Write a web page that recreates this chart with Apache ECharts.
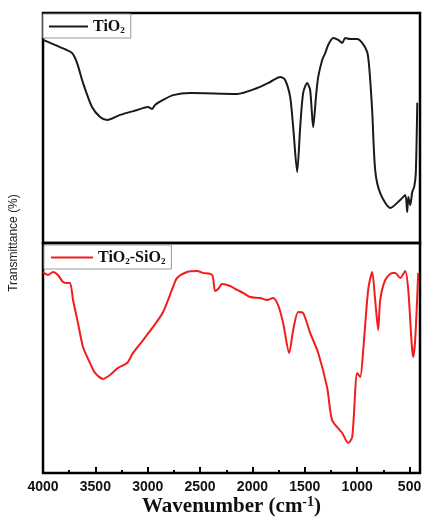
<!DOCTYPE html>
<html>
<head>
<meta charset="utf-8">
<script src="https://cdn.jsdelivr.net/npm/echarts@6/dist/echarts.min.js"></script>
<style>
  html, body { margin: 0; padding: 0; background: #fff; }
  #chart { width: 422px; height: 519px; }
</style>
</head>
<body>
<div id="chart"></div>
<script>
// FTIR spectra, values (transmittance in arbitrary units, 0-100 per panel)
const tio2Wave = [4000, 3838, 3723, 3675, 3618, 3532, 3455, 3388, 3264, 3102, 2997, 2958, 2930, 2853, 2758, 2595, 2146, 1955, 1831, 1735, 1688, 1640, 1611, 1573, 1544, 1516, 1478, 1449, 1420, 1392, 1372, 1334, 1305, 1277, 1229, 1181, 1143, 1114, 1067, 1000, 952, 904, 885, 857, 828, 780, 684, 589, 541, 522, 512, 493, 474, 455, 440, 426]
const tio2Trans = [88.3, 85.2, 82.6, 78.3, 69.6, 59.1, 54.8, 53.5, 55.7, 57.8, 59.1, 58.3, 60.0, 62.2, 64.3, 65.2, 64.8, 67.4, 70.0, 72.2, 70.9, 63.5, 50.4, 30.9, 50.4, 65.2, 69.6, 66.5, 50.4, 64.3, 72.2, 79.6, 82.6, 86.1, 89.1, 88.3, 87.0, 89.1, 88.7, 88.7, 87.0, 83.0, 76.5, 57.8, 31.7, 21.7, 15.2, 18.7, 20.9, 13.5, 20.0, 16.5, 22.2, 24.5, 30.4, 61]

const tisiWave = [4000, 3952, 3904, 3857, 3809, 3771, 3742, 3713, 3666, 3618, 3551, 3503, 3427, 3360, 3283, 3197, 3140, 3044, 2949, 2853, 2758, 2720, 2624, 2529, 2471, 2385, 2357, 2328, 2290, 2213, 2146, 2089, 2022, 1927, 1860, 1802, 1755, 1707, 1649, 1611, 1563, 1516, 1449, 1372, 1286, 1239, 1143, 1086, 1047, 1000, 971, 942, 895, 857, 828, 799, 780, 732, 665, 637, 589, 541, 512, 465, 446, 417]
const tisiTrans = [87.4, 86.1, 87.4, 86.1, 83.0, 82.6, 82.6, 75.2, 65.2, 54.8, 47.8, 43.5, 40.9, 42.6, 45.7, 47.8, 52.2, 57.8, 63.5, 70.0, 80.9, 84.8, 87.4, 87.8, 87.0, 86.1, 79.1, 80.0, 82.2, 81.3, 79.6, 78.3, 76.5, 76.1, 75.2, 76.1, 73.0, 65.2, 52.2, 62.2, 70.0, 69.6, 60.9, 52.2, 37.0, 23.0, 17.4, 13.0, 15.7, 43.5, 41.7, 53.5, 79.6, 87.4, 75.2, 62.2, 75.2, 83.9, 87.0, 87.0, 84.8, 87.8, 79.6, 50.4, 57.8, 87.0]

const majorTicks = [4000, 3500, 3000, 2500, 2000, 1500, 1000, 500]
const minorTicks = [3750, 3250, 2750, 2250, 1750, 1250, 750]

const zip = (xs, ys) => xs.map((x, i) => [x, ys[i]])

const chart = echarts.init(document.getElementById('chart'))

const legendRich = {
  t: { fontFamily: 'Liberation Serif', fontWeight: 'bold', fontSize: 16, color: '#111', lineHeight: 16 },
  s: { fontFamily: 'Liberation Serif', fontWeight: 'bold', fontSize: 9, color: '#111', lineHeight: 16, padding: [8, 0, 0, 0] }
}
const legendNames = {
  'TiO2': '{t|TiO}{s|2}',
  'TiO2-SiO2': '{t|TiO}{s|2}{t|-SiO}{s|2}'
}

const baseX = {
  type: 'value',
  min: 400,
  max: 4000,
  inverse: true,
  position: 'bottom',
  axisLine: { show: false },
  splitLine: { show: false },
  axisLabel: { show: false },
  axisTick: { show: false }
}

const option = {
  animation: false,
  backgroundColor: '#fff',
  grid: [
    { left: 43, right: 2, top: 13, height: 230, outerBoundsMode: 'none', show: true, borderColor: '#000', borderWidth: 2.5, backgroundColor: 'transparent' },
    { left: 43, right: 2, top: 243, height: 230, outerBoundsMode: 'none', show: true, borderColor: '#000', borderWidth: 2.5, backgroundColor: 'transparent' }
  ],
  legend: [
    {
      data: ['TiO2'], left: 43, top: 14, orient: 'vertical',
      icon: 'rect', itemWidth: 39, itemHeight: 2, itemGap: 0,
      padding: [4, 6, 3, 6], borderColor: '#999', borderWidth: 1, backgroundColor: '#fff',
      formatter: n => legendNames[n], textStyle: { rich: legendRich }
    },
    {
      data: ['TiO2-SiO2'], left: 44, top: 245, orient: 'vertical',
      icon: 'rect', itemWidth: 42, itemHeight: 2, itemGap: 0,
      padding: [4, 6, 3, 7], borderColor: '#999', borderWidth: 1, backgroundColor: '#fff',
      formatter: n => legendNames[n], textStyle: { rich: legendRich }
    }
  ],
  xAxis: [
    Object.assign({}, baseX, { gridIndex: 0 }),
    Object.assign({}, baseX, {
      gridIndex: 1,
      axisTick: { show: true, inside: true, length: 6, customValues: majorTicks, lineStyle: { color: '#000', width: 2 } },
      axisLabel: {
        show: true, customValues: majorTicks, margin: 7,
        formatter: v => String(v),
        fontFamily: 'Liberation Sans', fontWeight: 'bold', fontSize: 14, color: '#111'
      },
      name: '{a|Wavenumber (cm}{b|-1}{a|)}',
      nameLocation: 'middle',
      nameGap: 19,
      nameTextStyle: {
        rich: {
          a: { fontFamily: 'Liberation Serif', fontWeight: 'bold', fontSize: 21, color: '#111', lineHeight: 22 },
          b: { fontFamily: 'Liberation Serif', fontWeight: 'bold', fontSize: 14, color: '#111', lineHeight: 22, padding: [0, 0, 10, 0] }
        }
      }
    }),
    Object.assign({}, baseX, {
      gridIndex: 1,
      axisTick: { show: true, inside: true, length: 3, customValues: minorTicks, lineStyle: { color: '#000', width: 2 } }
    })
  ],
  yAxis: [
    { type: 'value', gridIndex: 0, min: 0, max: 100, show: false },
    { type: 'value', gridIndex: 1, min: 0, max: 100, show: false }
  ],
  graphic: [
    {
      type: 'text', x: 14, y: 243, rotation: Math.PI / 2,
      style: {
        text: 'Transmittance (%)', align: 'center', verticalAlign: 'middle',
        fontFamily: 'Liberation Sans', fontSize: 12, fill: '#222'
      }
    }
  ],
  series: [
    {
      name: 'TiO2', type: 'line', xAxisIndex: 0, yAxisIndex: 0,
      data: zip(tio2Wave, tio2Trans),
      symbol: 'none', smooth: 0.25,
      lineStyle: { color: '#1a1a1a', width: 2 },
      itemStyle: { color: '#1a1a1a' }
    },
    {
      name: 'TiO2-SiO2', type: 'line', xAxisIndex: 1, yAxisIndex: 1,
      data: zip(tisiWave, tisiTrans),
      symbol: 'none', smooth: 0.25,
      lineStyle: { color: '#f21d1d', width: 2 },
      itemStyle: { color: '#f21d1d' }
    }
  ]
}

chart.setOption(option)
</script>
</body>
</html>
